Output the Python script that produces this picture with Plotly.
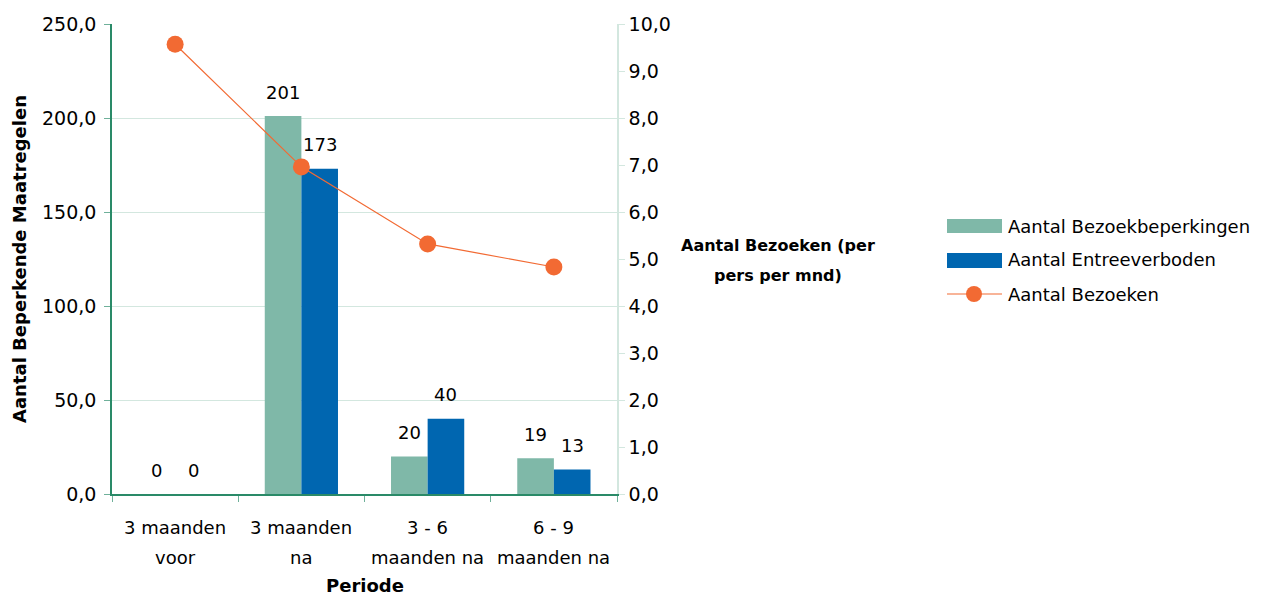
import plotly.graph_objects as go

categories = ["3 maanden voor", "3 maanden na", "3 - 6 maanden na", "6 - 9 maanden na"]
tick_line1 = ["3 maanden", "3 maanden", "3 - 6", "6 - 9"]
tick_line2 = ["voor", "na", "maanden na", "maanden na"]
bezoekbeperkingen = [0, 201, 20, 19]
entreeverboden = [0, 173, 40, 13]
bezoeken = [9.57, 6.96, 5.32, 4.83]

left_ticks = [0, 50, 100, 150, 200, 250]
right_ticks = list(range(0, 11))

series_names = ["Aantal Bezoekbeperkingen", "Aantal Entreeverboden", "Aantal Bezoeken"]

FONT = "DejaVu Sans"
GREEN = "#7fb8a8"
BLUE = "#0066b0"
ORANGE = "#f26a33"
AXIS = "#2a8a68"
TICK = "#6fb09a"
GRID = "#d3e7df"

# page layout (browser body has an 8px margin)
OFF = 8
W, H = 1256, 587
L, T = 104, 16
PW, PH = 505, 470
R = W - L - PW
B = H - T - PH


def px(x):
    return (x - OFF - L) / PW


def py(y):
    return 1 - (y - OFF - T) / PH


fig = go.Figure()
fig.add_trace(go.Bar(x=categories, y=bezoekbeperkingen, name=series_names[0],
                     marker_color=GREEN, marker_line_width=0))
fig.add_trace(go.Bar(x=categories, y=entreeverboden, name=series_names[1],
                     marker_color=BLUE, marker_line_width=0))
fig.add_trace(go.Scatter(
    x=categories, y=bezoeken, name=series_names[2], yaxis="y2",
    mode="lines+markers", line=dict(color=ORANGE, width=1.2),
    marker=dict(color=ORANGE, size=17), cliponaxis=False,
))

annotations = []
BAR_HALF = 18.3
for cat, v1, v2 in zip(categories, bezoekbeperkingen, entreeverboden):
    for v, sh in ((v1, -BAR_HALF), (v2, BAR_HALF)):
        annotations.append(dict(
            x=cat, y=v, xref="x", yref="y", text=str(v), showarrow=False,
            xshift=sh, yshift=24, yanchor="middle", xanchor="center",
            font=dict(size=18, color="#000"),
        ))

for cat, l1, l2 in zip(categories, tick_line1, tick_line2):
    annotations.append(dict(x=cat, xref="x", y=py(527), yref="paper", text=l1,
                            showarrow=False, yanchor="middle", font=dict(size=18)))
    annotations.append(dict(x=cat, xref="x", y=py(557), yref="paper", text=l2,
                            showarrow=False, yanchor="middle", font=dict(size=18)))

annotations += [
    dict(text="<b>Periode</b>", xref="paper", yref="paper", x=px(365), y=py(585),
         showarrow=False, xanchor="center", yanchor="middle", font=dict(size=18)),
    dict(text="<b>Aantal Beperkende Maatregelen</b>", xref="paper", yref="paper",
         x=px(19), y=py(259), textangle=-90, showarrow=False,
         xanchor="center", yanchor="middle", font=dict(size=18)),
    dict(text="<b>Aantal Bezoeken (per</b>", xref="paper", yref="paper",
         x=px(778), y=py(245), showarrow=False, xanchor="center", yanchor="middle",
         font=dict(size=16)),
    dict(text="<b>pers per mnd)</b>", xref="paper", yref="paper",
         x=px(778), y=py(275), showarrow=False, xanchor="center", yanchor="middle",
         font=dict(size=16)),
]

# custom legend
shapes = []
leg_y = [226, 260, 294]
for name, yc in zip(series_names, leg_y):
    annotations.append(dict(text=name, xref="paper", yref="paper", x=px(1006), y=py(yc),
                            showarrow=False, xanchor="left", yanchor="middle",
                            font=dict(size=18)))
shapes.append(dict(type="rect", xref="paper", yref="paper", x0=px(947), x1=px(1002),
                   y0=py(233), y1=py(219), fillcolor=GREEN, line_width=0))
shapes.append(dict(type="rect", xref="paper", yref="paper", x0=px(947), x1=px(1002),
                   y0=py(268), y1=py(253), fillcolor=BLUE, line_width=0))
shapes.append(dict(type="line", xref="paper", yref="paper", x0=px(947), x1=px(1002),
                   y0=py(294), y1=py(294), line=dict(color=ORANGE, width=1.2)))
shapes.append(dict(type="circle", xref="paper", yref="paper", x0=px(966), x1=px(982),
                   y0=py(302), y1=py(286), fillcolor=ORANGE, line_width=0))

fig.update_layout(
    width=W, height=H,
    margin=dict(l=L, r=R, t=T, b=B, autoexpand=False),
    paper_bgcolor="white", plot_bgcolor="white",
    font=dict(family=FONT, size=18, color="#000"),
    separators=",.",
    barmode="group", bargap=0.42, bargroupgap=0,
    showlegend=False,
    xaxis=dict(
        type="category", tickson="boundaries", ticks="outside", ticklen=6,
        tickcolor=TICK, showline=True, linecolor=AXIS, linewidth=1.5,
        showgrid=False, showticklabels=False, automargin=False,
    ),
    yaxis=dict(
        range=[0, 250], tickvals=left_ticks, tickformat=".1f",
        ticks="outside", ticklen=6, tickcolor=TICK,
        showline=True, linecolor=AXIS, linewidth=1.5,
        showgrid=True, gridcolor=GRID, gridwidth=1.2, zeroline=False,
        tickfont=dict(size=19), ticklabelstandoff=4, automargin=False,
    ),
    yaxis2=dict(
        range=[0, 10], tickvals=right_ticks, tickformat=".1f",
        overlaying="y", side="right",
        ticks="outside", ticklen=6, tickcolor=GRID,
        showline=True, linecolor=GRID, linewidth=1.5,
        showgrid=False, zeroline=False, tickfont=dict(size=19), automargin=False,
    ),
    annotations=annotations,
    shapes=shapes,
)

fig.write_html("out.html")
